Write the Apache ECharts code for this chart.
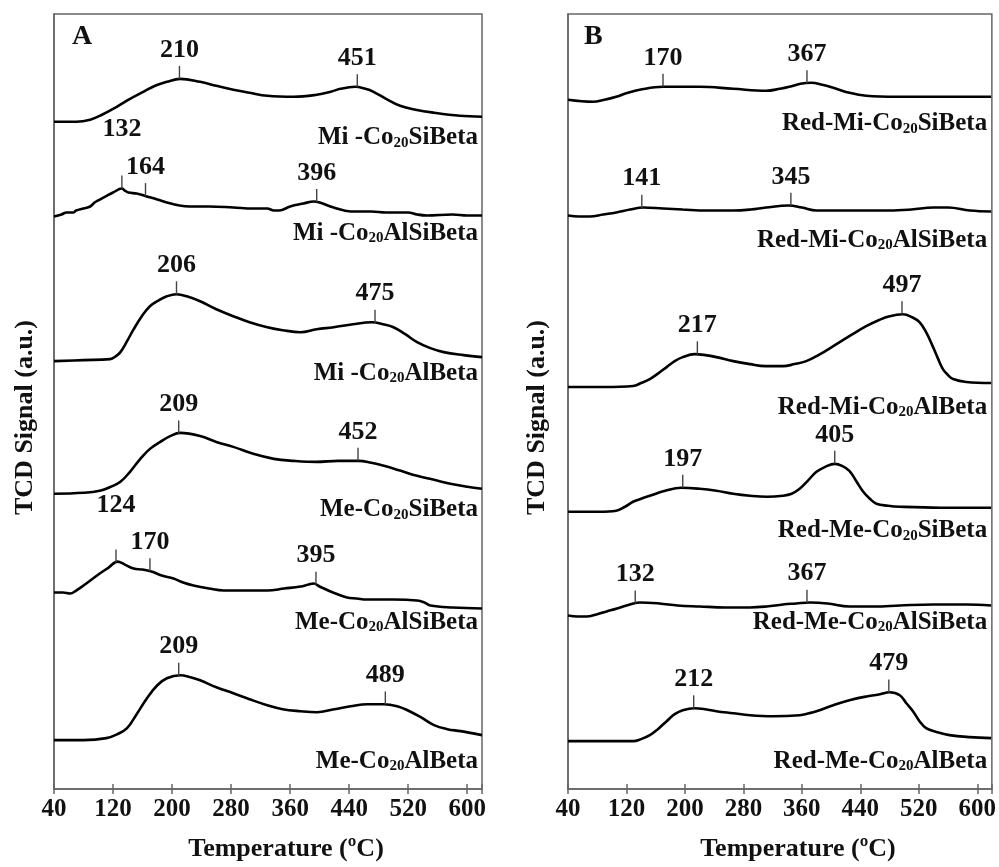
<!DOCTYPE html>
<html>
<head>
<meta charset="utf-8">
<script src="https://cdn.jsdelivr.net/npm/echarts@6/dist/echarts.min.js"></script>
<style>html,body{margin:0;padding:0;background:#fff}#c{width:999px;height:867px}</style>
</head>
<body>
<div id="c"></div>
<script>
// ---------- DATA (temperature °C, TCD signal a.u.) ----------
const xTicks = [40, 120, 200, 280, 360, 440, 520, 600];

// Panel A
const miCo20SiBeta = [[40,669],[70,669],[89,671],[105,676],[125,684],[143,692],[161,699],[177,705],[193,709],[211,712],[238,709],[260,705],[283,701],[305,698],[329,695],[365,694],[396,696],[415,699],[428,702],[448,704],[462,702],[473,699],[490,692],[509,685],[530,681],[555,678],[590,675],[620,674]];
const miCo20AlSiBeta = [[40,574],[50,576],[57,578],[66,578],[70,580],[80,582],[89,584],[95,588],[102,591],[112,595],[120,598],[132,602],[136,600],[141,598],[152,597],[166,594],[180,591],[193,588],[210,585],[224,584],[250,584],[283,583],[310,582],[329,582],[338,580],[345,580],[360,584],[378,587],[392,589],[400,588],[419,583],[442,579],[470,579],[490,578],[509,578],[520,578],[532,576],[545,575],[580,576],[600,575],[620,575]];
const miCo20AlBeta = [[40,429],[80,430],[116,431],[124,434],[130,438],[139,449],[148,461],[159,474],[170,484],[182,490],[193,494],[206,496],[220,494],[238,489],[260,481],[283,474],[305,468],[329,463],[350,460],[374,458],[396,461],[419,463],[445,466],[471,468],[486,466],[500,463],[516,456],[532,448],[550,442],[568,438],[595,435],[620,433]];
const meCo20SiBeta = [[40,296],[80,297],[102,299],[117,303],[130,308],[143,318],[157,331],[170,341],[184,348],[198,354],[211,357],[238,354],[260,348],[283,343],[310,336],[338,331],[365,329],[396,328],[425,329],[453,329],[470,327],[487,324],[510,319],[532,314],[555,310],[577,306],[600,303],[620,301]];
const meCo20AlSiBeta = [[40,197],[52,197],[62,196],[70,199],[80,204],[91,210],[102,216],[114,222],[126,228],[136,225],[148,221],[160,220],[172,218],[186,214],[202,211],[215,207],[229,204],[250,201],[270,199],[300,199],[329,199],[352,201],[374,203],[385,205],[392,206],[400,203],[418,197],[437,192],[450,191],[464,190],[500,190],[532,189],[542,187],[550,184],[580,182],[620,181]];
const meCo20AlBeta = [[40,49],[80,49],[111,51],[126,55],[139,61],[152,75],[166,91],[180,104],[193,111],[211,114],[225,112],[238,109],[260,102],[283,96],[305,90],[329,84],[350,80],[374,78],[396,77],[420,80],[442,83],[465,85],[487,85],[505,83],[519,79],[537,72],[555,64],[573,60],[591,58],[620,54]];

// Panel B
const redMiCo20SiBeta = [[40,691],[74,689],[90,691],[106,694],[122,698],[138,701],[170,704],[220,704],[266,702],[311,700],[330,702],[343,704],[358,707],[373,708],[388,706],[403,703],[425,698],[448,695],[490,694],[539,694],[580,694],[619,694]];
const redMiCo20AlSiBeta = [[40,575],[55,574],[70,574],[88,576],[106,578],[125,581],[143,583],[170,582],[197,581],[230,580],[266,580],[290,581],[311,583],[342,585],[360,583],[380,580],[410,580],[448,580],[480,580],[510,581],[540,583],[560,583],[590,580],[619,579]];
const redMiCo20AlBeta = [[40,403],[90,403],[129,404],[140,407],[152,411],[164,417],[175,423],[186,429],[197,433],[213,436],[228,435],[243,433],[266,429],[289,426],[310,424],[334,424],[350,426],[366,429],[385,436],[403,444],[425,454],[448,464],[465,470],[480,474],[498,476],[511,473],[521,468],[530,458],[539,444],[546,432],[553,421],[560,415],[567,411],[585,408],[619,407]];
const redMeCo20SiBeta = [[40,278],[83,278],[106,279],[118,283],[129,288],[140,291],[152,294],[173,299],[195,302],[220,301],[243,299],[266,296],[289,294],[312,293],[334,294],[346,296],[357,301],[368,309],[380,318],[392,323],[405,326],[415,324],[425,319],[435,308],[444,298],[453,291],[462,286],[478,284],[494,283],[550,282],[619,282]];
const redMeCo20AlSiBeta = [[40,174],[53,173],[65,173],[79,175],[93,178],[107,181],[120,184],[138,187],[165,186],[190,184],[220,183],[255,182],[289,182],[312,183],[334,185],[352,186],[371,187],[395,186],[425,183],[460,183],[494,184],[540,185],[585,185],[619,184]];
const redMeCo20AlBeta = [[40,48],[90,48],[129,48],[140,50],[152,54],[163,60],[175,68],[186,75],[197,79],[213,81],[228,80],[243,78],[266,76],[289,74],[320,73],[357,74],[370,76],[380,78],[403,84],[425,89],[450,93],[467,95],[480,97],[494,94],[503,86],[512,78],[521,68],[530,61],[545,57],[562,54],[590,52],[619,51]];

const seriesA = [miCo20SiBeta, miCo20AlSiBeta, miCo20AlBeta, meCo20SiBeta, meCo20AlSiBeta, meCo20AlBeta];
const seriesB = [redMiCo20SiBeta, redMiCo20AlSiBeta, redMiCo20AlBeta, redMeCo20SiBeta, redMeCo20AlSiBeta, redMeCo20AlBeta];

// sample names: [prefix, subscript, suffix]
const namesA = [['Mi -Co','20','SiBeta'],['Mi -Co','20','AlSiBeta'],['Mi -Co','20','AlBeta'],['Me-Co','20','SiBeta'],['Me-Co','20','AlSiBeta'],['Me-Co','20','AlBeta']];
const namesB = [['Red-Mi-Co','20','SiBeta'],['Red-Mi-Co','20','AlSiBeta'],['Red-Mi-Co','20','AlBeta'],['Red-Me-Co','20','SiBeta'],['Red-Me-Co','20','AlSiBeta'],['Red-Me-Co','20','AlBeta']];

// labelled peak temperatures (°C)
const peaksA = [[210,451],[132,164,396],[206,475],[209,452],[124,170,395],[209,489]];
const peaksB = [[170,367],[141,345],[217,497],[197,405],[132,367],[212,479]];

// ---------- STYLE ----------
const FONT = '"Liberation Serif", "Times New Roman", serif';
const peakLiftA = [[0,0],[30,0,0],[0,0],[0,0],[28,0,0],[0,0]];
const peakLiftB = [[0,0],[0,0],[0,0],[0,0],[0,0],[0,0]];
const nameDyA = [20,17,15,20,13,25];
const nameDyB = [26,28,23,22,16,22];

function interp(pts, t) {
  for (let i = 1; i < pts.length; i++) {
    if (t <= pts[i][0]) {
      const [x0,y0] = pts[i-1], [x1,y1] = pts[i];
      return y0 + (y1 - y0) * (t - x0) / (x1 - x0);
    }
  }
  return pts[pts.length-1][1];
}

const rich = {
  n: {fontFamily: FONT, fontWeight: 'bold', fontSize: 25, color: '#111', lineHeight: 27, verticalAlign: 'bottom'},
  s: {fontFamily: FONT, fontWeight: 'bold', fontSize: 15, color: '#111', lineHeight: 5, verticalAlign: 'bottom'}
};

function buildSeries(list, names, peaks, lifts, dys, gi) {
  return list.map((pts, i) => {
    const last = pts[pts.length-1];
    const mp = peaks[i].map((t, k) => ({
      coord: [t, interp(pts, t)],
      symbol: 'rect',
      symbolSize: [1.4, 13],
      symbolOffset: [0, -6.5],
      itemStyle: {color: '#444'},
      label: {
        show: true, position: 'top', distance: 3 + lifts[i][k],
        formatter: String(t),
        fontFamily: FONT, fontWeight: 'bold', fontSize: 26, color: '#111'
      }
    }));
    mp.push({
      coord: [last[0], last[1]],
      symbol: 'circle', symbolSize: 0,
      label: {
        show: true, position: 'inside', align: 'right', verticalAlign: 'middle',
        offset: [-4, dys[i]],
        formatter: '{n|' + names[i][0] + '}{s|' + names[i][1] + '}{n|' + names[i][2] + '}',
        rich: rich
      }
    });
    return {
      type: 'line', xAxisIndex: gi*2, yAxisIndex: gi, data: pts,
      smooth: 0.4, symbol: 'none', silent: true,
      lineStyle: {color: '#000', width: 2.6},
      markPoint: {silent: true, animation: false, data: mp}
    };
  });
}

const axisLineStyle = {color: '#666', width: 1.5};
function xAxes(gi) {
  const base = {type: 'value', gridIndex: gi, min: 40, max: 620, interval: 80, position: 'bottom', splitLine: {show: false}};
  return [
    Object.assign({}, base, {
      name: 'Temperature (ºC)', nameLocation: 'middle', nameGap: 47,
      nameTextStyle: {fontFamily: FONT, fontWeight: 'bold', fontSize: 26, color: '#111', padding: [0,0,0,36]},
      axisLine: {lineStyle: axisLineStyle},
      axisTick: {show: true, inside: false, length: 5, lineStyle: axisLineStyle},
      axisLabel: {fontFamily: FONT, fontWeight: 'bold', fontSize: 25, color: '#111', margin: 8,
        customValues: xTicks}
    }),
    Object.assign({}, base, {
      axisLine: {show: false},
      axisTick: {show: true, inside: true, length: 5, lineStyle: axisLineStyle},
      axisLabel: {show: false}
    })
  ];
}
function yAxis(gi, gap) {
  return {
    type: 'value', gridIndex: gi, min: 0, max: 777,
    name: 'TCD Signal (a.u.)', nameLocation: 'middle', nameGap: gap, nameRotate: 90,
    nameTextStyle: {fontFamily: FONT, fontWeight: 'bold', fontSize: 26, color: '#111', padding: [0,32,0,0]},
    axisLine: {show: true, lineStyle: axisLineStyle},
    axisTick: {show: false}, axisLabel: {show: false}, splitLine: {show: false}
  };
}

const option = {
  backgroundColor: '#fff',
  animation: false,
  grid: [
    {left: 54, top: 14, width: 428, height: 777, show: true, borderColor: '#666', borderWidth: 1.5},
    {left: 568, top: 14, width: 424, height: 777, show: true, borderColor: '#666', borderWidth: 1.5}
  ],
  xAxis: [...xAxes(0), ...xAxes(1)],
  yAxis: [yAxis(0, 16), yAxis(1, 18)],
  graphic: [
    {type: 'text', left: 72, top: 23, style: {text: 'A', font: 'bold 28px ' + FONT, fill: '#111'}},
    {type: 'text', left: 584, top: 23, style: {text: 'B', font: 'bold 28px ' + FONT, fill: '#111'}}
  ],
  series: [
    ...buildSeries(seriesA, namesA, peaksA, peakLiftA, nameDyA, 0),
    ...buildSeries(seriesB, namesB, peaksB, peakLiftB, nameDyB, 1)
  ]
};

const chart = echarts.init(document.getElementById('c'), null, {renderer: 'canvas'});
chart.setOption(option);
</script>
</body>
</html>
